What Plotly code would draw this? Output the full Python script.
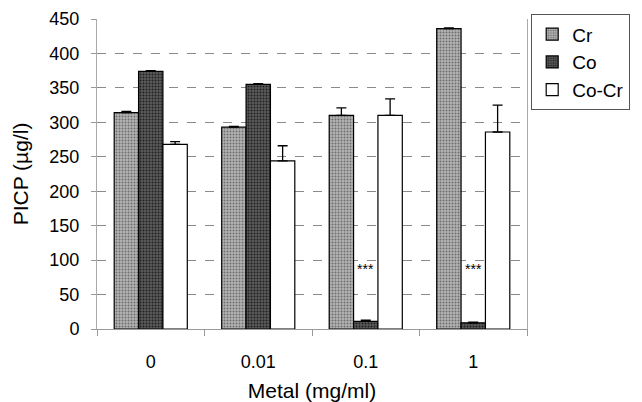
import plotly.graph_objects as go

categories = ["0", "0.01", "0.1", "1"]
cr_vals = [314, 293, 310, 436]
co_vals = [374, 355, 11, 9]
cocr_vals = [268, 244, 310, 286]
cr_err = [2, 1, 11, 1]
co_err = [1, 1, 2, 1]
cocr_err = [4, 22, 24, 39]
sig_labels = ["", "", "***", "***"]

FONT = "Liberation Sans, Arial, sans-serif"

fig = go.Figure()
series = [
    ("Cr", cr_vals, cr_err, "#b4b4b4", "#6e6e6e"),
    ("Co", co_vals, co_err, "#5a5a5a", "#202020"),
    ("Co-Cr", cocr_vals, cocr_err, "#ffffff", "#ffffff"),
]
for name, vals, err, bg, fg in series:
    fig.add_trace(go.Bar(
        name=name, x=categories, y=vals,
        marker=dict(color=bg, line=dict(color="#000000", width=1.2),
                    pattern=dict(shape=".", bgcolor=bg, fgcolor=fg,
                                 size=3, solidity=0.35, fillmode="replace")),
        error_y=dict(type="data", array=err, arrayminus=[0] * len(err),
                     symmetric=False, color="#000000", thickness=1.3, width=5),
    ))

for i, s in enumerate(sig_labels):
    if s:
        fig.add_annotation(x=i, y=87, text=s, showarrow=False,
                           font=dict(family=FONT, size=14, color="#000000"))

fig.update_layout(
    width=642, height=402,
    margin=dict(l=97, r=112, t=19, b=73),
    paper_bgcolor="#ffffff", plot_bgcolor="#ffffff",
    barmode="group", bargap=0.32, bargroupgap=0,
    font=dict(family=FONT, size=18, color="#000000"),
    showlegend=True,
    legend=dict(x=1.24, y=1.015, xanchor="right", yanchor="top",
                bordercolor="#555555", borderwidth=1,
                font=dict(family=FONT, size=19), tracegroupgap=0,
                itemwidth=30),
    xaxis=dict(title=dict(text="Metal (mg/ml)", font=dict(size=21)),
               automargin=False,
               showline=True, linecolor="#999999", linewidth=1,
               ticks="outside", tickson="boundaries", ticklen=6, tickcolor="#999999",
               ticklabelstandoff=16, showgrid=False),
    yaxis=dict(title=dict(text="PICP (µg/l)", font=dict(size=21)),
               automargin=False,
               range=[0, 450], dtick=50,
               showline=True, mirror=True, linecolor="#aaaaaa", linewidth=1,
               ticks="outside", ticklen=5, tickcolor="#999999",
               ticklabelstandoff=8,
               showgrid=True, gridcolor="#8a8a8a", gridwidth=1, griddash="dash",
               zeroline=False),
)

fig.write_html("out.html", config={"displayModeBar": False},
               post_script="document.body.style.margin='0';document.body.style.padding='0';")
